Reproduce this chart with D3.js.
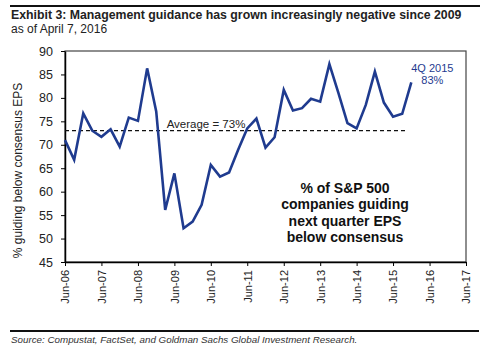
<!DOCTYPE html>
<html>
<head>
<meta charset="utf-8">
<script src="https://cdn.jsdelivr.net/npm/d3@7"></script>
<style>
  body { margin: 0; background: #fff; }
  svg { font-family: Arial, "Liberation Sans", sans-serif; }
</style>
</head>
<body>
<script>
"use strict";
(function(){
    // quarter ends, Jun-06 .. Dec-15
    const quarters = ["2006-06","2006-09","2006-12","2007-03","2007-06","2007-09","2007-12",
        "2008-03","2008-06","2008-09","2008-12","2009-03","2009-06","2009-09","2009-12",
        "2010-03","2010-06","2010-09","2010-12","2011-03","2011-06","2011-09","2011-12",
        "2012-03","2012-06","2012-09","2012-12","2013-03","2013-06","2013-09","2013-12",
        "2014-03","2014-06","2014-09","2014-12","2015-03","2015-06","2015-09","2015-12"]
    // % of S&P 500 guiding below consensus
    const pctBelow = [71.0, 66.8, 76.7, 73.0, 71.7, 73.3, 69.6,
        75.8, 75.1, 86.3, 77.1, 56.1, 63.9, 52.2, 53.6,
        57.2, 65.7, 63.2, 64.1, 68.9, 73.5, 75.6, 69.4,
        71.6, 81.7, 77.3, 77.8, 79.8, 79.2, 87.2, 81.0,
        74.6, 73.5, 78.5, 85.6, 79.0, 76.0, 76.6, 83.3]
    const average = 73
    const xTickLabels = ["Jun-06","Jun-07","Jun-08","Jun-09","Jun-10","Jun-11",
        "Jun-12","Jun-13","Jun-14","Jun-15","Jun-16","Jun-17"]
    const yTicks = [45, 50, 55, 60, 65, 70, 75, 80, 85, 90]

    const measurements = { width: 488, height: 352, left: 65, right: 466, top: 51, bottom: 262 }
    const lineColor = "#1f3b8f"

    const parseQ = d3.timeParse("%Y-%m")
    const parseTick = d3.timeParse("%b-%y")
    const data = quarters.map((q, i) => ({ date: parseQ(q), value: pctBelow[i] }))
    const tickDates = xTickLabels.map(parseTick)

    const svg = d3.select("body").append("svg")
        .attr("width", measurements.width)
        .attr("height", measurements.height)

    // header
    svg.append("line").attr("x1", 10).attr("x2", 480).attr("y1", 6).attr("y2", 6)
        .attr("stroke", "#111").attr("stroke-width", 2)
    svg.append("text").attr("x", 11).attr("y", 19)
        .style("font-size", "12.3px").style("font-weight", "bold").attr("fill", "#222")
        .text("Exhibit 3: Management guidance has grown increasingly negative since 2009")
    svg.append("text").attr("x", 11).attr("y", 33)
        .style("font-size", "12px").attr("fill", "#222")
        .text("as of April 7, 2016")

    const scaleX = d3.scaleTime()
        .domain([tickDates[0], tickDates[tickDates.length - 1]])
        .range([measurements.left, measurements.right])
    const scaleY = d3.scaleLinear()
        .domain([45, 90])
        .range([measurements.bottom, measurements.top])

    // frame
    svg.append("rect")
        .attr("x", measurements.left).attr("y", measurements.top)
        .attr("width", measurements.right - measurements.left)
        .attr("height", measurements.bottom - measurements.top)
        .attr("fill", "none").attr("stroke", "#444").attr("stroke-width", 1.2)

    const xAxis = svg.append("g")
        .attr("transform", `translate(0, ${measurements.bottom})`)
        .call(d3.axisBottom(scaleX).tickValues(tickDates).tickFormat((d, i) => xTickLabels[i])
            .tickSize(4).tickSizeOuter(0))
    xAxis.select(".domain").attr("stroke", "#000").attr("stroke-width", 1.5)
    xAxis.selectAll("text")
        .attr("transform", "rotate(-90)")
        .attr("x", -8).attr("y", 0).attr("dy", "0.35em")
        .style("text-anchor", "end")
        .style("font-size", "11px").attr("fill", "#222")

    const yAxis = svg.append("g")
        .attr("transform", `translate(${measurements.left}, 0)`)
        .call(d3.axisLeft(scaleY).tickValues(yTicks).tickSize(4).tickSizeOuter(0))
    yAxis.select(".domain").attr("stroke", "#000").attr("stroke-width", 1.5)
    yAxis.selectAll("text").attr("x", -12)
        .style("font-size", "12.5px").attr("fill", "#222")

    svg.append("text")
        .attr("transform", `translate(22, ${(measurements.top + measurements.bottom) / 2 + 14}) rotate(-90)`)
        .style("text-anchor", "middle").style("font-size", "12px").attr("fill", "#222")
        .text("% guiding below consensus EPS")

    // average line
    svg.append("line")
        .attr("x1", measurements.left).attr("x2", scaleX(data[data.length - 1].date) - 4)
        .attr("y1", scaleY(average)).attr("y2", scaleY(average))
        .attr("stroke", "#111").attr("stroke-width", 1.2).attr("stroke-dasharray", "4,3")
    svg.append("text")
        .attr("x", 206).attr("y", scaleY(average) - 3)
        .style("text-anchor", "middle").style("font-size", "11.5px").attr("fill", "#222")
        .text("Average = " + average + "%")

    // series line
    const line = d3.line()
        .x(d => scaleX(d.date))
        .y(d => scaleY(d.value))
    svg.append("path").datum(data)
        .attr("d", line)
        .attr("fill", "none").attr("stroke", lineColor)
        .attr("stroke-width", 2.6).attr("stroke-linejoin", "miter")

    // last point label
    const last = data[data.length - 1]
    const lastLabel = svg.append("text")
        .attr("x", scaleX(last.date) + 21).attr("y", scaleY(last.value) - 10)
        .style("text-anchor", "middle").style("font-size", "11px").attr("fill", lineColor)
    lastLabel.append("tspan").text("4Q 2015")
    lastLabel.append("tspan").attr("x", scaleX(last.date) + 21).attr("dy", 12)
        .text(Math.round(last.value) + "%")

    // annotation
    const note = ["% of S&P 500", "companies guiding", "next quarter EPS", "below consensus"]
    svg.append("g").selectAll("text").data(note).enter().append("text")
        .attr("x", 345).attr("y", (d, i) => 193 + i * 16.3)
        .style("text-anchor", "middle").style("font-size", "14px").style("font-weight", "bold")
        .attr("fill", "#111")
        .text(d => d)

    // footer
    svg.append("line").attr("x1", 10).attr("x2", 479).attr("y1", 331).attr("y2", 331)
        .attr("stroke", "#111").attr("stroke-width", 2)
    svg.append("text").attr("x", 11).attr("y", 343)
        .style("font-size", "9.8px").style("font-style", "italic").attr("fill", "#333")
        .text("Source: Compustat, FactSet, and Goldman Sachs Global Investment Research.")
})()
</script>
</body>
</html>
